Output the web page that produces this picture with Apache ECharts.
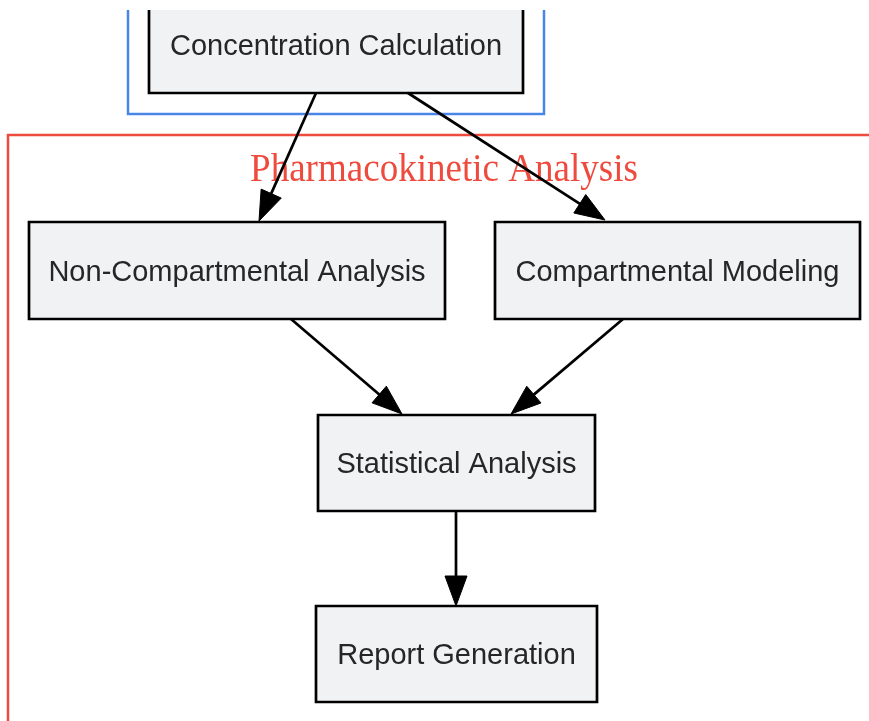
<!DOCTYPE html>
<html>
<head>
<meta charset="utf-8">
<script src="https://cdn.jsdelivr.net/npm/echarts@6/dist/echarts.min.js"></script>
<style>html,body{margin:0;padding:0;background:#fff}#c{width:869px;height:721px}</style>
</head>
<body>
<div id="c"></div>
<script>
// Flowchart layout data (diagram coordinate space, y grows downward)
const nodeLabels = ['Concentration Calculation', 'Non-Compartmental Analysis', 'Compartmental Modeling', 'Statistical Analysis', 'Report Generation'];
const nodeX0 = [149, 29, 495, 318, 316];
const nodeX1 = [523, 445, 860, 595, 597];
const nodeY0 = [-3, 222, 222, 415, 606];
const nodeY1 = [93, 319, 319, 511, 702];

const edgeFromX = [316, 408, 291, 623, 456];
const edgeFromY = [93, 93, 319, 319, 511];
const edgeToX = [259, 605, 402, 511, 456];
const edgeToY = [221, 220, 414, 414, 606];

const clusterLabels = ['', 'Pharmacokinetic Analysis'];
const clusterX0 = [128, 8];
const clusterX1 = [544, 900];
const clusterY0 = [-20, 135];
const clusterY1 = [114, 760];
const clusterLabelX = [444, 444];
const clusterLabelY = [0, 171];

const W = 869, H = 721;
const chart = echarts.init(document.getElementById('c'));

const clusterColors = ['#4a86e8', '#ee4a3d'];

chart.setOption({
  animation: false,
  grid: { left: 0, right: 0, top: 10, bottom: 0 },
  xAxis: { type: 'value', min: 0, max: W, show: false },
  yAxis: { type: 'value', min: 10, max: H, inverse: true, show: false },
  series: [
    {
      type: 'custom',
      clip: true,
      data: clusterLabels.map((l, i) => [clusterX0[i], clusterY0[i], clusterX1[i], clusterY1[i], clusterLabelX[i], clusterLabelY[i], i]),
      renderItem: function (params, api) {
        const i = api.value(6);
        const p0 = api.coord([api.value(0), api.value(1)]);
        const p1 = api.coord([api.value(2), api.value(3)]);
        const lp = api.coord([api.value(4), api.value(5)]);
        const children = [{
          type: 'rect',
          shape: { x: p0[0], y: p0[1], width: p1[0] - p0[0], height: p1[1] - p0[1] },
          style: { fill: 'none', stroke: clusterColors[i], lineWidth: 2.5 }
        }];
        if (clusterLabels[i]) {
          children.push({
            type: 'text',
            x: lp[0], y: lp[1], scaleX: 0.975, scaleY: 1.03,
            style: {
              text: clusterLabels[i], x: 0, y: 0, align: 'center', verticalAlign: 'middle',
              fill: clusterColors[i], font: '38px "Liberation Serif", "Times New Roman", serif'
            }
          });
        }
        return { type: 'group', children };
      }
    },
    {
      type: 'custom',
      clip: true,
      data: nodeLabels.map((l, i) => [nodeX0[i], nodeY0[i], nodeX1[i], nodeY1[i], i]),
      renderItem: function (params, api) {
        const i = api.value(4);
        const p0 = api.coord([api.value(0), api.value(1)]);
        const p1 = api.coord([api.value(2), api.value(3)]);
        return {
          type: 'group',
          children: [
            {
              type: 'rect',
              shape: { x: p0[0], y: p0[1], width: p1[0] - p0[0], height: p1[1] - p0[1] },
              style: { fill: '#f1f2f4', stroke: '#000', lineWidth: 2.7 }
            },
            {
              type: 'text',
              style: {
                text: nodeLabels[i], x: (p0[0] + p1[0]) / 2, y: (p0[1] + p1[1]) / 2 + 2,
                align: 'center', verticalAlign: 'middle', fill: '#262626',
                font: '29px "Liberation Sans", Arial, sans-serif'
              }
            }
          ]
        };
      }
    },
    {
      type: 'custom',
      clip: true,
      data: edgeFromX.map((x, i) => [x, edgeFromY[i], edgeToX[i], edgeToY[i]]),
      renderItem: function (params, api) {
        const a = api.coord([api.value(0), api.value(1)]);
        const b = api.coord([api.value(2), api.value(3)]);
        const dx = b[0] - a[0], dy = b[1] - a[1];
        const len = Math.sqrt(dx * dx + dy * dy);
        const ux = dx / len, uy = dy / len;
        const L = 30, hw = 11;
        const bx = b[0] - ux * L, by = b[1] - uy * L;
        return {
          type: 'group',
          children: [
            {
              type: 'line',
              shape: { x1: a[0], y1: a[1], x2: bx + ux * 2, y2: by + uy * 2 },
              style: { stroke: '#000', lineWidth: 2.7 }
            },
            {
              type: 'polygon',
              shape: { points: [[b[0], b[1]], [bx - uy * hw, by + ux * hw], [bx + uy * hw, by - ux * hw]] },
              style: { fill: '#000', stroke: '#000', lineWidth: 1 }
            }
          ]
        };
      }
    }
  ]
});
</script>
</body>
</html>
